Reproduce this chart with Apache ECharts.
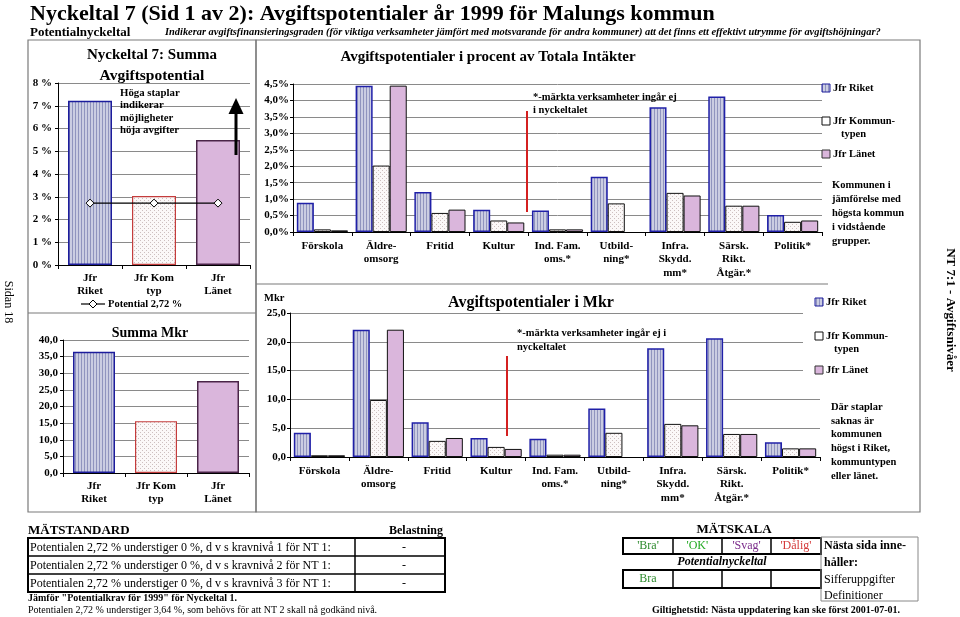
<!DOCTYPE html>
<html><head><meta charset="utf-8">
<script src="https://cdn.jsdelivr.net/npm/echarts@6/dist/echarts.min.js"></script>
<style>html,body{margin:0;padding:0;background:#fff}#c{width:960px;height:617px}</style>
</head><body><div id="c"></div>
<script>
// ---------- DATA ----------
const sumCategories = ['Jfr\nRiket', 'Jfr Kom\ntyp', 'Jfr\nLänet'];
const sumPercent = [7.22, 3.03, 5.49];
const potentialLine = [2.72, 2.72, 2.72];
const sumMkr = [36.5, 15.6, 27.7];

const categories = ['Förskola', 'Äldre-\nomsorg', 'Fritid', 'Kultur', 'Ind. Fam.\noms.*', 'Utbild-\nning*', 'Infra.\nSkydd.\nmm*', 'Särsk.\nRikt.\nÅtgär.*', 'Politik*'];
const pctRiket  = [0.89, 4.45, 1.22, 0.68, 0.65, 1.68, 3.79, 4.12, 0.52];
const pctKomtyp = [0.08, 2.02, 0.58, 0.35, 0.08, 0.87, 1.19, 0.80, 0.31];
const pctLanet  = [0.05, 4.45, 0.68, 0.29, 0.08, null, 1.11, 0.80, 0.35];
const mkrRiket  = [4.2, 22.1, 6.05, 3.3, 3.15, 8.4, 18.9, 20.6, 2.55];
const mkrKomtyp = [0.3, 9.9, 2.8, 1.75, 0.4, 4.2, 5.75, 4.0, 1.5];
const mkrLanet  = [0.3, 22.1, 3.3, 1.4, 0.4, null, 5.5, 4.0, 1.5];

const seriesNames = ['Jfr Riket', 'Jfr Kommuntypen', 'Jfr Länet'];

// ---------- STYLE HELPERS ----------
const SERIF = "'Liberation Serif', 'Times New Roman', serif";
function pattern(w, h, bg, color, pts) {
  const c = document.createElement('canvas'); c.width = w; c.height = h;
  const g = c.getContext('2d'); g.fillStyle = bg; g.fillRect(0, 0, w, h);
  g.fillStyle = color; pts.forEach(p => g.fillRect(p[0], p[1], p[2] || 1, p[3] || 1));
  return { image: c, repeat: 'repeat' };
}
const fillRiket = pattern(3, 2, '#cbcde2', '#9094be', [[0, 0, 1, 2]]);
const fillKom = pattern(4, 4, '#fbf8f8', '#cdbfbf', [[0, 0], [2, 2]]);
const fillLanet = '#dab6dc';

const chart = echarts.init(document.getElementById('c'), null, { renderer: 'canvas' });

function xCat(gi, data, margin) {
  return {
    type: 'category', gridIndex: gi, data: data, boundaryGap: true,
    axisLine: { lineStyle: { color: '#000', width: 1 } },
    axisTick: { show: true, length: 4, lineStyle: { color: '#000' } },
    axisLabel: { interval: 0, margin: margin, color: '#000', fontFamily: SERIF, fontWeight: 'bold', fontSize: 11, lineHeight: 13.5 }
  };
}
function yVal(gi, max, interval, fmt, margin) {
  return {
    type: 'value', gridIndex: gi, min: 0, max: max, interval: interval,
    axisLine: { show: true, lineStyle: { color: '#000', width: 1 } },
    axisTick: { show: true, length: 3, lineStyle: { color: '#000' } },
    splitLine: { show: true, lineStyle: { color: '#8a8a8a', width: 1 } },
    axisLabel: { formatter: fmt, margin: margin, color: '#000', fontFamily: SERIF, fontWeight: 'bold', fontSize: 11 }
  };
}
const comma1 = v => v.toFixed(1).replace('.', ',');

const leftStyles = [
  { color: fillRiket, borderColor: '#1c1c9c', borderWidth: 1.5 },
  { color: fillKom, borderColor: '#c43c3c', borderWidth: 1.2 },
  { color: fillLanet, borderColor: '#4a2448', borderWidth: 1.5 }
];
const midStyles = [
  { color: fillRiket, borderColor: '#2020a8', borderWidth: 1.5 },
  { color: fillKom, borderColor: '#111', borderWidth: 1 },
  { color: fillLanet, borderColor: '#111', borderWidth: 1 }
];

function midSeries(gi, arrs) {
  return arrs.map((arr, i) => ({
    type: 'bar', name: seriesNames[i], xAxisIndex: gi, yAxisIndex: gi, data: arr,
    barGap: '0%', barCategoryGap: '13%', itemStyle: midStyles[i], silent: true
  }));
}

// ---------- GRAPHIC HELPERS ----------
const G = [];
function T(text, x, y, font, opts) {
  opts = opts || {};
  G.push({
    type: 'text', x: x, y: y, rotation: opts.rotation || 0, z: 100,
    style: {
      text: text, font: font, fill: opts.fill || '#000',
      textAlign: opts.align || 'left', align: opts.align || 'left',
      textVerticalAlign: 'middle', verticalAlign: 'middle'
    }
  });
}
function L(x1, y1, x2, y2, stroke, w, z) {
  G.push({ type: 'line', z: z || 100, shape: { x1, y1, x2, y2 }, style: { stroke: stroke, lineWidth: w } });
}
function R(x, y, w, h, fill, stroke, lw, z) {
  G.push({ type: 'rect', z: z || 100, shape: { x, y, width: w, height: h }, style: { fill: fill, stroke: stroke, lineWidth: lw || 0 } });
}

// header
T('Nyckeltal 7 (Sid 1 av 2): Avgiftspotentialer år 1999 för Malungs kommun', 30, 14, 'bold 22px ' + SERIF);
T('Potentialnyckeltal', 30, 33, 'bold 13px ' + SERIF);
T('Indikerar avgiftsfinansieringsgraden (för viktiga verksamheter jämfört med motsvarande för andra kommuner) att det finns ett effektivt utrymme för avgiftshöjningar?', 165, 32, 'italic bold 10.4px ' + SERIF);

// frames
R(28, 40, 228, 472, 'none', '#7a7a7a', 1.2, 1);
R(256, 40, 664, 472, 'none', '#7a7a7a', 1.2, 1);
L(28, 313, 256, 313, '#7a7a7a', 1.2, 1);
L(256, 284, 828, 284, '#7a7a7a', 1.2, 1);
T('Sidan 18', 8, 302, '12px ' + SERIF, { align: 'center', rotation: -Math.PI / 2 });
T('NT 7:1 - Avgiftsnivåer', 950, 310, 'bold 13px ' + SERIF, { align: 'center', rotation: -Math.PI / 2 });

// left top chart texts
T('Nyckeltal 7: Summa', 152, 55, 'bold 15px ' + SERIF, { align: 'center' });
T('Avgiftspotential', 152, 76, 'bold 15.5px ' + SERIF, { align: 'center' });
['Höga staplar', 'indikerar', 'möjligheter', 'höja avgifter'].forEach((s, i) => T(s, 120, 93 + i * 12.5, 'bold 10.8px ' + SERIF));
G.push({ type: 'polygon', z: 100, shape: { points: [[236, 98], [228.5, 114], [243.5, 114]] }, style: { fill: '#000' } });
L(236, 112, 236, 155, '#000', 3);
// legend potential
L(81, 304, 105, 304, '#000', 1.2);
G.push({ type: 'polygon', z: 101, shape: { points: [[93, 300], [97, 304], [93, 308], [89, 304]] }, style: { fill: '#fff', stroke: '#000', lineWidth: 1 } });
T('Potential 2,72 %', 108, 304, 'bold 10.5px ' + SERIF);

// left bottom
T('Summa Mkr', 150, 333, 'bold 14px ' + SERIF, { align: 'center' });

// middle top
T('Avgiftspotentialer i procent av Totala Intäkter', 488, 57, 'bold 15px ' + SERIF, { align: 'center' });
T('*-märkta verksamheter ingår ej', 533, 97, 'bold 10.5px ' + SERIF);
T('i nyckeltalet', 533, 110, 'bold 10.5px ' + SERIF);
L(527, 111, 527, 212, '#d42020', 2);

// middle bottom
T('Mkr', 264, 298, 'bold 10.5px ' + SERIF);
T('Avgiftspotentialer i Mkr', 531, 303, 'bold 16px ' + SERIF, { align: 'center' });
T('*-märkta verksamheter ingår ej i', 517, 333, 'bold 10.5px ' + SERIF);
T('nyckeltalet', 517, 347, 'bold 10.5px ' + SERIF);
L(507, 356, 507, 436, '#d42020', 2);

// right legends
function legendBlock(x, y) {
  R(x, y[0] - 4, 8, 8, fillRiket, '#1c1c9c', 1);
  T('Jfr Riket', x + 11, y[0], 'bold 10.5px ' + SERIF);
  R(x, y[1] - 4, 8, 8, '#fff', '#111', 1);
  T('Jfr Kommun-', x + 11, y[1], 'bold 10.5px ' + SERIF);
  T('typen', x + 19, y[1] + 13, 'bold 10.5px ' + SERIF);
  R(x, y[2] - 4, 8, 8, fillLanet, '#333', 1);
  T('Jfr Länet', x + 11, y[2], 'bold 10.5px ' + SERIF);
}
legendBlock(822, [88, 121, 154]);
['Kommunen i', 'jämförelse med', 'högsta kommun', 'i vidstående', 'grupper.'].forEach((s, i) => T(s, 832, 185 + i * 14, 'bold 10.5px ' + SERIF));
R(803, 288, 30, 92, '#fff', null, 0, 50);
legendBlock(815, [302, 336, 370]);
['Där staplar', 'saknas är', 'kommunen', 'högst i Riket,', 'kommuntypen', 'eller länet.'].forEach((s, i) => T(s, 831, 407 + i * 13.8, 'bold 10.5px ' + SERIF));

// bottom-left table
T('MÄTSTANDARD', 28, 531, 'bold 13px ' + SERIF);
T('Belastning', 443, 531, 'bold 12px ' + SERIF, { align: 'right' });
R(28, 538, 417, 54, 'none', '#000', 2);
L(28, 556, 445, 556, '#000', 1.5);
L(28, 574, 445, 574, '#000', 1.5);
L(355, 538, 355, 592, '#000', 1.5);
[1, 2, 3].forEach((k, i) => {
  T('Potentialen 2,72 % understiger 0 %, d v s kravnivå ' + k + ' för NT 1:', 30, 547.5 + i * 18, '12px ' + SERIF);
  T('-', 404, 547.5 + i * 18, '12px ' + SERIF, { align: 'center' });
});
T('Jämför "Potentialkrav för 1999" för Nyckeltal 1.', 28, 598.5, 'bold 10px ' + SERIF);
T('Potentialen 2,72 % understiger 3,64 %, som behövs för att NT 2 skall nå godkänd nivå.', 28, 610, '10px ' + SERIF);

// bottom-right scale
T('MÄTSKALA', 734, 530, 'bold 13px ' + SERIF, { align: 'center' });
R(623, 538, 198, 16, 'none', '#000', 2);
[673, 722, 771].forEach(x => L(x, 538, x, 554, '#000', 1.5));
[["'Bra'", '#2e8b2e'], ["'OK'", '#22aa22'], ["'Svag'", '#7a2a8a'], ["'Dålig'", '#d43a3a']].forEach((c, i) =>
  T(c[0], 648 + i * 49.3, 546, '12px ' + SERIF, { align: 'center', fill: c[1] }));
T('Potentialnyckeltal', 722, 562, 'italic bold 12px ' + SERIF, { align: 'center' });
R(623, 570, 198, 18, 'none', '#000', 2);
[673, 722, 771].forEach(x => L(x, 570, x, 588, '#000', 1.5));
T('Bra', 648, 579, '12px ' + SERIF, { align: 'center', fill: '#2e8b2e' });
R(821, 537, 97, 64, 'none', '#888', 1);
T('Nästa sida inne-', 824, 546, 'bold 12px ' + SERIF);
T('håller:', 824, 563, 'bold 12px ' + SERIF);
T('Sifferuppgifter', 824, 580, '12px ' + SERIF);
T('Definitioner', 824, 596, '12px ' + SERIF);
T('Giltighetstid: Nästa uppdatering kan ske först 2001-07-01.', 776, 610, 'bold 10px ' + SERIF, { align: 'center' });

// ---------- OPTION ----------
const option = {
  animation: false,
  backgroundColor: '#fff',
  grid: [
    { left: 58, top: 83, width: 192, height: 182 },
    { left: 63, top: 340, width: 186, height: 133 },
    { left: 293, top: 84, width: 529, height: 148 },
    { left: 290, top: 313, width: 530, height: 144 }
  ],
  xAxis: [
    xCat(0, sumCategories, 6),
    xCat(1, sumCategories, 6),
    xCat(2, categories, 7),
    xCat(3, categories, 7)
  ],
  yAxis: [
    yVal(0, 8, 1, v => v + ' %', 6),
    yVal(1, 40, 5, comma1, 5),
    yVal(2, 4.5, 0.5, v => comma1(v) + '%', 4),
    yVal(3, 25, 5, comma1, 4)
  ],
  series: [
    { type: 'bar', xAxisIndex: 0, yAxisIndex: 0, barWidth: 44, silent: true,
      data: sumPercent.map((v, i) => ({ value: v, itemStyle: leftStyles[i] })) },
    { type: 'line', name: 'Potential 2,72 %', xAxisIndex: 0, yAxisIndex: 0, data: potentialLine, z: 5,
      symbol: 'diamond', symbolSize: 8, showAllSymbol: true,
      itemStyle: { color: '#fff', borderColor: '#000', borderWidth: 1 },
      lineStyle: { color: '#000', width: 1.2 } },
    { type: 'bar', xAxisIndex: 1, yAxisIndex: 1, barWidth: 42, silent: true,
      data: sumMkr.map((v, i) => ({ value: v, itemStyle: leftStyles[i] })) },
    ...midSeries(2, [pctRiket, pctKomtyp, pctLanet]),
    ...midSeries(3, [mkrRiket, mkrKomtyp, mkrLanet])
  ],
  graphic: { elements: G }
};
chart.setOption(option);
</script>
</body></html>
